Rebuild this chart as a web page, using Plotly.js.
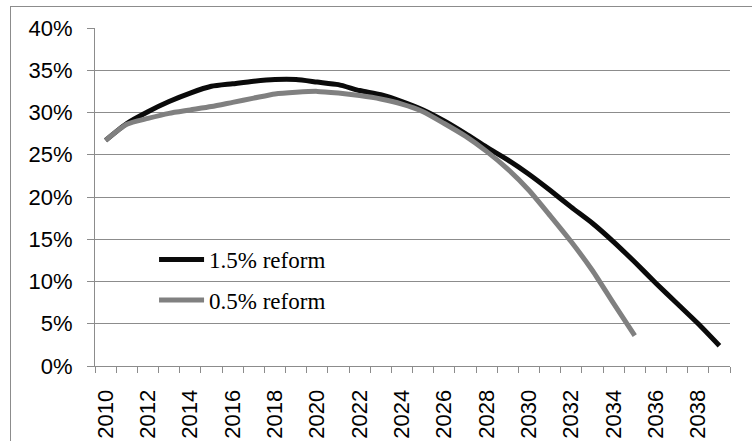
<!DOCTYPE html>
<html>
<head>
<meta charset="utf-8">
<script src="https://cdn.plot.ly/plotly-3.0.1.min.js"></script>
<style>
  html, body { margin: 0; padding: 0; background: #fff; }
  #wrap { position: relative; width: 752px; height: 441px; overflow: hidden; }
  #frame { position: absolute; left: 10px; top: 6px; width: 760px; height: 460px; border: 1px solid #8c8c8c; box-sizing: border-box; pointer-events: none; }
  #chart { position: absolute; left: 0; top: 0; width: 752px; height: 441px; }
</style>
</head>
<body>
<div id="wrap">
  <div id="chart"></div>
  <div id="frame"></div>
</div>
<script>
const years = [2010,2011,2012,2013,2014,2015,2016,2017,2018,2019,
               2020,2021,2022,2023,2024,2025,2026,2027,2028,2029,
               2030,2031,2032,2033,2034,2035,2036,2037,2038,2039];
const reform15 = [0.267,0.287,0.301,0.313,0.323,0.331,0.334,0.337,0.339,0.339,
                  0.336,0.333,0.326,0.321,0.313,0.303,0.290,0.275,0.259,0.244,
                  0.227,0.208,0.188,0.169,0.147,0.123,0.098,0.074,0.050,0.024];
const years05 = years.slice(0, 26);
const reform05 = [0.267,0.286,0.293,0.299,0.303,0.307,0.312,0.317,0.322,0.324,
                  0.325,0.323,0.320,0.316,0.310,0.301,0.287,0.272,0.254,0.233,
                  0.208,0.178,0.147,0.113,0.074,0.036];
const seriesNames = ['1.5% reform', '0.5% reform'];
const yTicks = [0,0.05,0.10,0.15,0.20,0.25,0.30,0.35,0.40];
const yTickText = ['0%','5%','10%','15%','20%','25%','30%','35%','40%'];
const xTickVals = years.filter((y, i) => i % 2 === 0);
const xTickText = xTickVals.map(String);

const traces = [
  { x: years, y: reform15, name: seriesNames[0], type: 'scatter', mode: 'lines',
    line: { color: '#0a0a0a', width: 5, shape: 'spline', smoothing: 0.6 }, legend: 'legend' },
  { x: years05, y: reform05, name: seriesNames[1], type: 'scatter', mode: 'lines',
    line: { color: '#808080', width: 5, shape: 'spline', smoothing: 0.6 }, legend: 'legend2' }
];

const legendFont = { family: '"Liberation Serif", "Times New Roman", serif', size: 23, color: '#000' };
const layout = {
  width: 752, height: 441,
  margin: { l: 95, r: 22, t: 28, b: 75, pad: 0 },
  paper_bgcolor: 'rgba(0,0,0,0)', plot_bgcolor: 'rgba(0,0,0,0)',
  font: { family: '"Liberation Sans", Arial, sans-serif', size: 22, color: '#000' },
  showlegend: true,
  xaxis: {
    type: 'linear', range: [2009.5, 2039.5], fixedrange: true,
    tickmode: 'array', tickvals: xTickVals, ticktext: xTickText,
    tickangle: -90, ticks: 'outside', ticklen: 6, tickcolor: 'rgba(0,0,0,0)',
    ticklabelstandoff: 8,
    showgrid: false, zeroline: false,
    showline: true, linecolor: '#8c8c8c', linewidth: 1,
    minor: { tick0: 2009.5, dtick: 1, ticks: 'outside', ticklen: 6, tickcolor: '#8c8c8c', showgrid: false }
  },
  yaxis: {
    range: [0, 0.40], fixedrange: true,
    tickmode: 'array', tickvals: yTicks, ticktext: yTickText,
    ticks: 'outside', ticklen: 7, tickcolor: '#8c8c8c',
    ticklabelstandoff: 10,
    showgrid: true, gridcolor: '#8c8c8c', gridwidth: 1,
    zeroline: false, showline: true, linecolor: '#8c8c8c', linewidth: 1
  },
  legend: { x: 0.093, y: 0.315, xanchor: 'left', yanchor: 'middle', bgcolor: 'rgba(0,0,0,0)',
            font: legendFont, itemwidth: 45, borderwidth: 0 },
  legend2: { x: 0.093, y: 0.195, xanchor: 'left', yanchor: 'middle', bgcolor: 'rgba(0,0,0,0)',
             font: legendFont, itemwidth: 45, borderwidth: 0 }
};

Plotly.newPlot('chart', traces, layout, { displayModeBar: false, staticPlot: true });
</script>
</body>
</html>
